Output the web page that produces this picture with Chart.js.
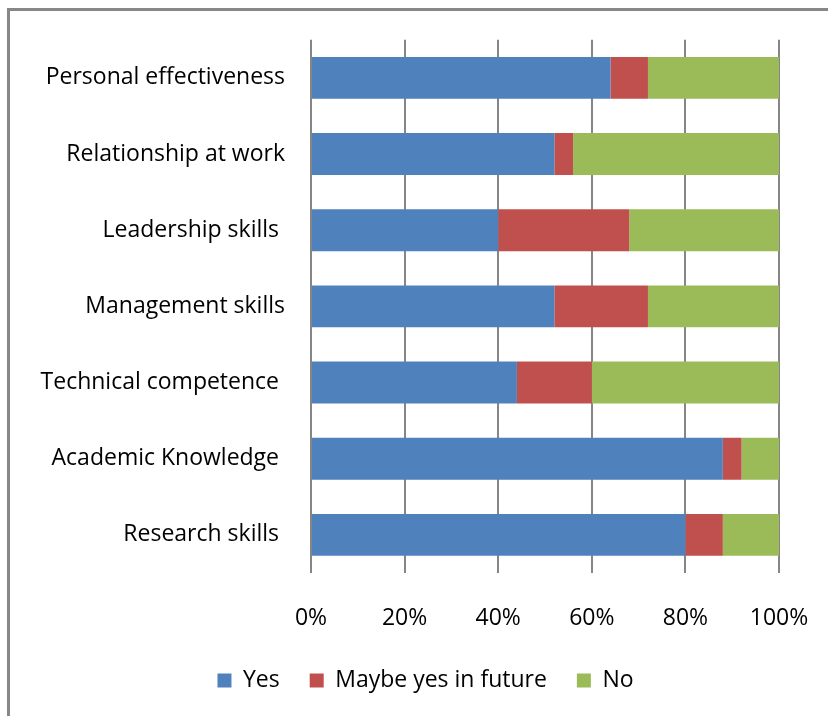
<!DOCTYPE html>
<html>
<head>
<meta charset="utf-8">
<script src="https://cdn.jsdelivr.net/npm/chart.js@4"></script>
<style>
  html, body { margin: 0; padding: 0; background: #fff; }
  #wrap { position: relative; width: 828px; height: 716px; overflow: hidden; }
  /* gray frame, only its top and left edges fall inside the page */
  #frame { position: absolute; left: 7px; top: 8px; width: 900px; height: 800px;
           border: 3px solid #878787; box-sizing: border-box; }
  #myChart { position: absolute; left: 0; top: 0; }
</style>
</head>
<body>
<div id="wrap">
  <div id="frame"></div>
  <canvas id="myChart" width="828" height="716"></canvas>
</div>
<script>
// skills, listed top to bottom
var skills = [
  "Personal effectiveness",
  "Relationship at work",
  "Leadership skills ",
  "Management skills",
  "Technical competence ",
  "Academic Knowledge ",
  "Research skills "
];

// share of answers in percent
var yesValues = [64, 52, 40, 52, 44, 88, 80];
var maybeValues = [8, 4, 28, 20, 16, 4, 8];
var noValues = [28, 44, 32, 28, 40, 8, 12];

var tickValues = [0, 20, 40, 60, 80, 100];

var fontName = "'Open Sans', sans-serif";
var legendOffset = 36; // legend sits a bit right of the centre

// nudge the legend sideways after the layout is done
const legendShift = {
  id: 'legendShift',
  afterLayout: function(chart) {
    chart.legend.left += legendOffset;
    chart.legend.right += legendOffset;
  }
};

const ctx = document.getElementById('myChart');
var myChart = new Chart(ctx, {
  type: 'bar',
  data: {
    labels: skills,
    datasets: [
      { label: 'Yes', data: yesValues, backgroundColor: '#4F81BD' },
      { label: 'Maybe yes in future', data: maybeValues, backgroundColor: '#C0504D' },
      { label: 'No', data: noValues, backgroundColor: '#9BBB59' }
    ]
  },
  options: {
    indexAxis: 'y',
    responsive: false,
    animation: false,
    layout: { padding: { top: 38, right: 49, bottom: 14, left: 0 } },
    datasets: {
      bar: { barPercentage: 0.55, categoryPercentage: 1, borderWidth: 0 }
    },
    scales: {
      x: {
        stacked: true,
        min: 0,
        max: 100,
        afterBuildTicks: function(scale) {
          scale.ticks = tickValues.map(function(v) { return { value: v }; });
        },
        afterFit: function(scale) {
          scale.height = 66;
          scale.paddingLeft = 0;
          scale.paddingRight = 0;
        },
        grid: { color: '#868686', lineWidth: 2, drawTicks: false },
        border: { display: false },
        ticks: {
          padding: 32,
          color: '#000',
          font: { family: fontName, size: 23 },
          callback: function(v) { return v + '%'; }
        }
      },
      y: {
        stacked: true,
        afterFit: function(scale) { scale.width = 311; },
        grid: { display: false, drawTicks: false },
        border: { display: false },
        ticks: {
          padding: 26,
          color: '#000',
          font: { family: fontName, size: 23 }
        }
      }
    },
    plugins: {
      legend: {
        position: 'bottom',
        labels: {
          boxWidth: 14,
          boxHeight: 14,
          padding: 30,
          color: '#000',
          font: { family: fontName, size: 23 }
        }
      },
      tooltip: { enabled: false }
    }
  },
  plugins: [legendShift]
});
</script>
</body>
</html>
